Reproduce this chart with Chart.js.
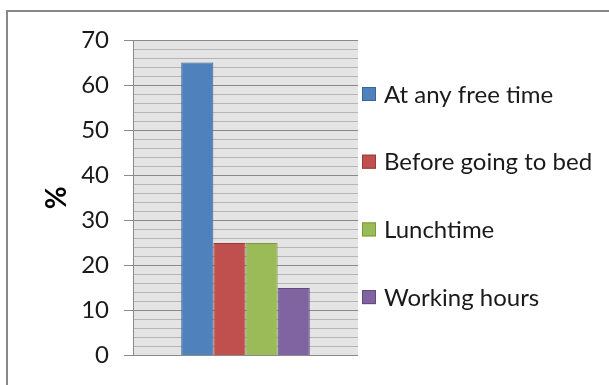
<!DOCTYPE html>
<html>
<head>
<meta charset="utf-8">
<script src="https://cdn.jsdelivr.net/npm/chart.js@4"></script>
<style>
  body { margin: 0; background: #fff; }
  #wrap { width: 609px; height: 385px; }
</style>
</head>
<body>
<div id="wrap"><canvas id="timeChart" width="609" height="385"></canvas></div>
<script>
const categories = [""];
const seriesNames = ["At any free time", "Before going to bed", "Lunchtime", "Working hours"];
const atAnyFreeTime = [65];
const beforeBed = [25];
const lunchtime = [25];
const workingHours = [15];

const fills = ["#4f81bd", "#c0504d", "#9bbb59", "#8064a2"];
const edges = ["#3b6596", "#9b3b38", "#7a9a3e", "#62497f"];
const FONT = "Lato, 'Open Sans', sans-serif";
const MAJOR = "#8a8a8a";
const MINOR = "#b5b5b5";

const frame = {
    id: "frame",
    beforeDraw(chart){
        const ctx = chart.ctx;
        const a = chart.chartArea;
        ctx.save();
        ctx.fillStyle = "#fff";
        ctx.fillRect(0, 0, chart.width, chart.height);
        ctx.strokeStyle = "#888";
        ctx.lineWidth = 2;
        ctx.strokeRect(7, 11, chart.width + 20, chart.height + 20);
        ctx.fillStyle = "#e4e4e4";
        ctx.fillRect(a.left, a.top, a.right - a.left, a.bottom - a.top);
        ctx.restore();
    }
};

// legend on the right, spaced like the office chart
const sideLegend = {
    id: "sideLegend",
    afterDraw(chart){
        const ctx = chart.ctx;
        ctx.save();
        ctx.font = "24px " + FONT;
        ctx.textBaseline = "middle";
        chart.data.datasets.forEach((ds, i)=>{
            const y = 94 + i * 67.7;
            ctx.fillStyle = ds.backgroundColor;
            ctx.fillRect(362, y - 7, 14, 14);
            ctx.strokeStyle = ds.borderColor;
            ctx.lineWidth = 1;
            ctx.strokeRect(362.5, y - 6.5, 13, 13);
            ctx.fillStyle = "#1a1a1a";
            ctx.fillText(ds.label, 384, y + 1);
        });
        ctx.restore();
    }
};

const values = [atAnyFreeTime, beforeBed, lunchtime, workingHours];

new Chart("timeChart", {
    type: "bar",
    data: {
        labels: categories,
        datasets: seriesNames.map((name, i)=>({
            label: name,
            data: values[i],
            backgroundColor: fills[i],
            borderColor: edges[i],
            borderWidth: 1,
            barPercentage: 1,
            categoryPercentage: 0.5714
        }))
    },
    options: {
        responsive: false,
        animation: false,
        layout: {padding: {top: 40, bottom: 25, left: 0, right: 251}},
        plugins: {
            legend: {display: false},
            tooltip: {enabled: false}
        },
        scales: {
            x: {display: false},
            y: {
                min: 0,
                max: 70,
                afterFit: (s)=>{ s.width = 133; },
                ticks: {
                    stepSize: 2,
                    autoSkip: false,
                    padding: 15,
                    color: "#1a1a1a",
                    font: {family: FONT, size: 24},
                    callback: (v)=> v % 10 === 0 ? v : ""
                },
                grid: {
                    tickLength: 9,
                    color: (c)=> c.tick && c.tick.value % 10 === 0 ? MAJOR : MINOR,
                    tickColor: (c)=> c.tick && c.tick.value % 10 === 0 ? MAJOR : "rgba(0,0,0,0)",
                    lineWidth: 1
                },
                border: {display: true, color: MAJOR, width: 1},
                title: {
                    display: true,
                    text: "%",
                    color: "#000",
                    font: {family: FONT, size: 28, weight: "bold"},
                    padding: {top: 40, bottom: 0}
                }
            }
        }
    },
    plugins: [frame, sideLegend]
});
</script>
</body>
</html>
